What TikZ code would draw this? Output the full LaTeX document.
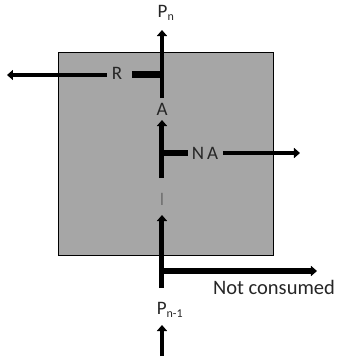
\documentclass[tikz,border=0pt]{standalone}
\usepackage{fontspec}
\setmainfont{Carlito}
\usetikzlibrary{arrows.meta}
\definecolor{boxgray}{HTML}{A6A6A6}
\definecolor{txt}{HTML}{262626}
\tikzset{
  lbl/.style={inner sep=0pt, text=txt, font=\fontsize{19}{19}\selectfont},
  flow/.style={line width=4.5pt, -{Triangle[width=10pt,length=6pt]}},
  bar/.style={line width=7pt},
}
\begin{document}
\begin{tikzpicture}[x=1pt,y=-1pt]
\useasboundingbox (0,0) rectangle (338,360);
\draw[fill=boxgray, draw=black, line width=0.9pt] (58,52) rectangle (273,255);
% labels
\node[lbl] (pn) at (166,13) {P\textsubscript{\fontsize{12}{12}\selectfont n}};
\node[lbl] (r) at (117,73) {R};
\node[lbl] (a) at (162,109) {A};
\node[lbl] (na) at (205,153) {N\,A};
\node[lbl, text=black!55] (i) at (162,199) {I};
\node[lbl, font=\fontsize{20.5}{20.5}\selectfont] (nc) at (274,287) {Not consumed};
\node[lbl] (pn1) at (170,310) {P\textsubscript{\fontsize{12}{12}\selectfont n-1}};
% coordinates
\coordinate (a1) at (162,98);
\coordinate (a2) at (162,30);
\coordinate (rb1) at (132,74);
\coordinate (rb2) at (164,74);
\coordinate (l1) at (107,75);
\coordinate (l2) at (7,75);
\coordinate (b1) at (162,178);
\coordinate (b2) at (162,120);
\coordinate (nb1) at (160,153);
\coordinate (nb2) at (188,153);
\coordinate (n1) at (223,153);
\coordinate (n2) at (300,153);
\coordinate (c1) at (162,288);
\coordinate (c2) at (162,215);
\coordinate (h1) at (160,271);
\coordinate (h2) at (317,271);
\coordinate (d1) at (162,356);
\coordinate (d2) at (162,325);
% connectors
\draw[flow] (a1) -- (a2);
\draw[bar] (rb1) -- (rb2);
\draw[flow] (l1) -- (l2);
\draw[flow, line width=5pt] (b1) -- (b2);
\draw[bar, line width=6pt] (nb1) -- (nb2);
\draw[flow] (n1) -- (n2);
\draw[flow, line width=5pt] (c1) -- (c2);
\draw[flow, line width=6pt] (h1) -- (h2);
\draw[flow] (d1) -- (d2);
\end{tikzpicture}
\end{document}
